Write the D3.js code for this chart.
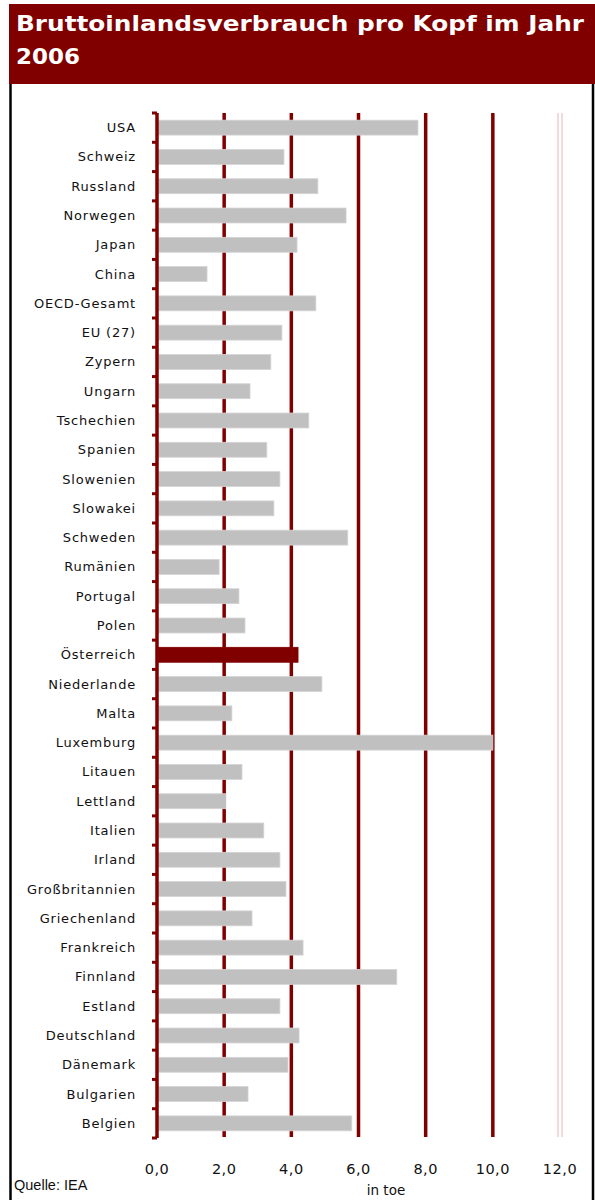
<!DOCTYPE html>
<html>
<head>
<meta charset="utf-8">
<script src="https://cdn.jsdelivr.net/npm/d3@7"></script>
<style>
  body { margin: 0; background: #fff; }
  svg { display: block; }
</style>
</head>
<body>
<div id="chart"></div>
<script>
const countries = ["USA", "Schweiz", "Russland", "Norwegen", "Japan", "China", "OECD-Gesamt", "EU (27)",
  "Zypern", "Ungarn", "Tschechien", "Spanien", "Slowenien", "Slowakei", "Schweden", "Rumänien",
  "Portugal", "Polen", "Österreich", "Niederlande", "Malta", "Luxemburg", "Litauen", "Lettland",
  "Italien", "Irland", "Großbritannien", "Griechenland", "Frankreich", "Finnland", "Estland",
  "Deutschland", "Dänemark", "Bulgarien", "Belgien"]
const values = [7.77, 3.78, 4.79, 5.63, 4.17, 1.49, 4.73, 3.72,
  3.39, 2.77, 4.52, 3.27, 3.66, 3.48, 5.68, 1.85,
  2.44, 2.62, 4.20, 4.91, 2.23, 10.0, 2.53, 2.05,
  3.18, 3.66, 3.84, 2.83, 4.35, 7.14, 3.66,
  4.23, 3.90, 2.71, 5.80]
const ticks = [0, 2, 4, 6, 8, 10, 12]
const highlight = "Österreich"

const red = "#800000"
const W = 595, H = 1200

let svg = d3.select("#chart").append("svg")
    .attr("width", W)
    .attr("height", H)

// title band
svg.append("rect")
    .attr("x", 9).attr("y", 4)
    .attr("width", W - 9).attr("height", 80)
    .attr("fill", red)
let title = svg.append("text")
    .attr("fill", "#fff")
    .attr("font-family", "DejaVu Sans")
    .attr("font-weight", "bold")
    .attr("font-size", 22)
title.append("tspan").attr("x", 16).attr("y", 31)
    .attr("textLength", 568).attr("lengthAdjust", "spacingAndGlyphs")
    .text("Bruttoinlandsverbrauch pro Kopf im Jahr")
title.append("tspan").attr("x", 16).attr("y", 64)
    .attr("textLength", 64).attr("lengthAdjust", "spacingAndGlyphs")
    .text("2006")

// frame
svg.append("line").attr("x1", 10.5).attr("x2", 10.5).attr("y1", 84).attr("y2", H)
    .attr("stroke", "#000").attr("stroke-width", 2.5)
svg.append("line").attr("x1", 593).attr("x2", 593).attr("y1", 84).attr("y2", H)
    .attr("stroke", "#000").attr("stroke-width", 2.5)

let x = d3.scaleLinear().domain([0, 12]).range([157, 560])
let y = d3.scaleBand().domain(countries).range([113, 1138]).paddingInner(0.49).paddingOuter(0.245)

// gridlines
svg.selectAll(".grid")
    .data(ticks.filter(t => t > 0 && t < 12))
    .enter().append("line")
    .attr("class", "grid")
    .attr("x1", d => x(d)).attr("x2", d => x(d))
    .attr("y1", 113).attr("y2", 1137)
    .attr("stroke", red).attr("stroke-width", 3.5)
// last gridline is only a faint double line
svg.selectAll(".grid12")
    .data([-2, 2])
    .enter().append("line")
    .attr("x1", d => x(12) + d).attr("x2", d => x(12) + d)
    .attr("y1", 113).attr("y2", 1137)
    .attr("stroke", "#e8b4b8").attr("stroke-width", 1)

// bars
svg.selectAll(".bar")
    .data(countries)
    .enter().append("rect")
    .attr("class", "bar")
    .attr("x", x(0) + 1.5)
    .attr("y", d => y(d))
    .attr("width", (d, i) => x(values[i]) - x(0) - 1.5)
    .attr("height", y.bandwidth())
    .attr("fill", d => d == highlight ? red : "#c0c0c0")
    .attr("stroke", d => d == highlight ? red : "#d4d4d4")
    .attr("stroke-width", 0.8)

// y axis
let yAxisG = svg.append("g")
let step = y.step()
yAxisG.append("line")
    .attr("x1", x(0)).attr("x2", x(0)).attr("y1", 113).attr("y2", 1138)
    .attr("stroke", red).attr("stroke-width", 3.5)
yAxisG.selectAll(".ytick")
    .data(d3.range(countries.length + 1))
    .enter().append("line")
    .attr("x1", x(0) - 5).attr("x2", x(0))
    .attr("y1", i => 113 + i * step).attr("y2", i => 113 + i * step)
    .attr("stroke", red).attr("stroke-width", 3)

// category labels
svg.selectAll(".lab")
    .data(countries)
    .enter().append("text")
    .attr("x", 136)
    .attr("y", d => y(d) + y.bandwidth() / 2)
    .attr("dy", "0.35em")
    .attr("text-anchor", "end")
    .attr("font-family", "DejaVu Sans")
    .attr("font-size", 13)
    .attr("letter-spacing", 0.8)
    .attr("fill", "#111")
    .text(d => d)

// x tick labels
let fmt = d => d3.format(".1f")(d).replace(".", ",")
svg.selectAll(".xlab")
    .data(ticks)
    .enter().append("text")
    .attr("x", d => x(d))
    .attr("y", 1174)
    .attr("text-anchor", "middle")
    .attr("font-family", "DejaVu Sans")
    .attr("font-size", 14.5)
    .attr("letter-spacing", 0.5)
    .attr("fill", "#111")
    .text(fmt)

svg.append("text")
    .attr("x", 386).attr("y", 1195)
    .attr("text-anchor", "middle")
    .attr("font-family", "DejaVu Sans")
    .attr("font-size", 13.5)
    .attr("fill", "#111")
    .text("in toe")

svg.append("text")
    .attr("x", 14).attr("y", 1190)
    .attr("font-family", "Liberation Sans")
    .attr("font-size", 14.5)
    .attr("fill", "#111")
    .text("Quelle: IEA")
</script>
</body>
</html>
